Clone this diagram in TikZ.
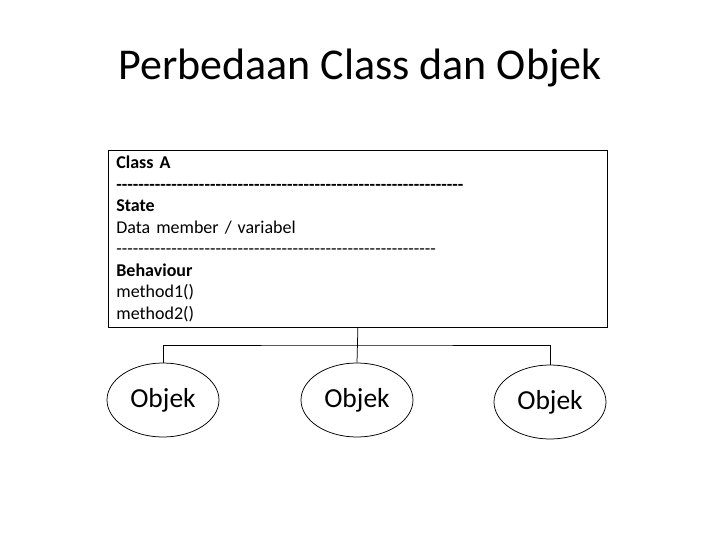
\documentclass[tikz,border=0pt]{standalone}
\usepackage{fontspec}
\setmainfont{Carlito}
\usetikzlibrary{shapes.geometric}

\newcommand{\dashrow}[1]{\foreach \i in {1,...,#1}{-}}

\begin{document}
\begin{tikzpicture}[x=1pt, y=-1pt, line width=0.75pt,
        every node/.style = {align=left},
        objek/.style = {shape=ellipse, draw, minimum width=112pt,
            minimum height=74pt, inner sep=0pt,
            font=\fontsize{27.5}{32}\selectfont}]
        \useasboundingbox (0,0) rectangle (720,540);
        \node [anchor=base, font=\fontsize{44}{50}\selectfont] (judul) at (360,80)
            {Perbedaan Class dan Objek};
        % kotak class
        \node [draw, anchor=north west, text width=483pt, minimum height=177pt,
            inner xsep=8pt, inner ysep=0pt,
            font=\fontsize{18}{21.5}\selectfont] (kelas) at (108,150)
            {\textbf{Class A}\\
             \textbf{\dashrow{63}}\\
             \textbf{State}\\
             Data member / variabel\\
             \dashrow{58}\\
             \textbf{Behaviour}\\
             method1()\\
             method2()};
        % objek
        \node [objek] (obj1) at (163,400) {Objek};
        \node [objek] (obj2) at (357,400) {Objek};
        \node [objek] (obj3) at (550,402) {Objek};
        \coordinate (cabang) at (357,345);
        \draw (kelas.south) -- (obj2.north);
        \draw (obj1.north) |- (cabang) -| (obj3.north);
\end{tikzpicture}
\end{document}
